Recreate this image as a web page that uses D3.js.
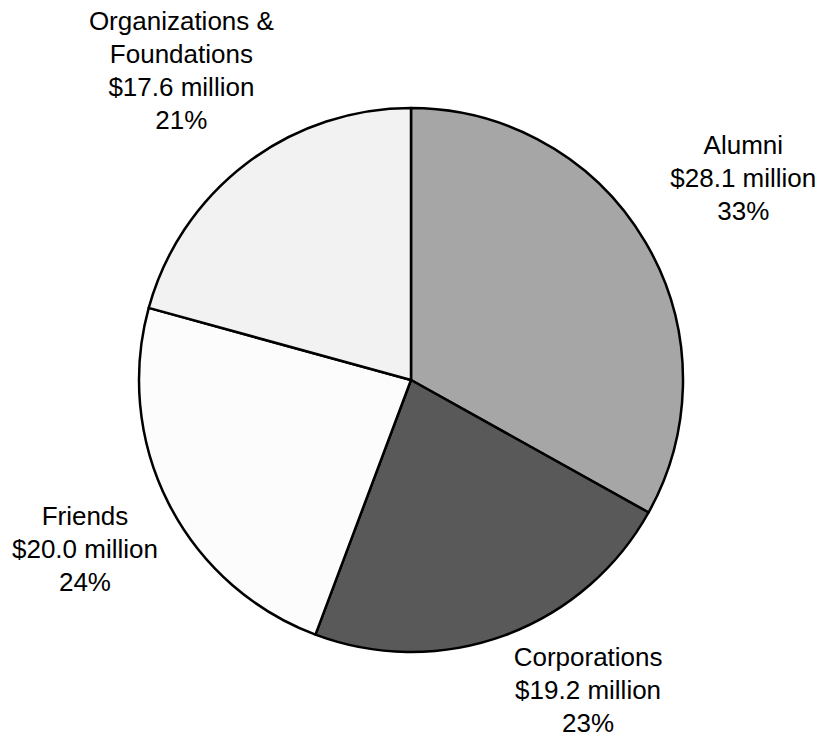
<!DOCTYPE html>
<html><head><meta charset="utf-8">
<script src="https://cdn.jsdelivr.net/npm/d3@7"></script>
<style>body{margin:0;background:#fff}svg{display:block}</style>
</head><body>
<svg id="c" width="829" height="738"></svg>
<script>
const categories = ["Alumni", "Corporations", "Friends", "Organizations & Foundations"];
const values = [28.1, 19.2, 20.0, 17.6];
const amountLabels = ["$28.1 million", "$19.2 million", "$20.0 million", "$17.6 million"];
const percentLabels = ["33%", "23%", "24%", "21%"];
const colors = ["#a6a6a6", "#595959", "#fcfcfc", "#f2f2f2"];

const svg = d3.select("#c");
const cx = 411, cy = 380, r = 272;
const g = svg.append("g").attr("transform", `translate(${cx},${cy})`);
const data = categories.map((c, i) => ({cat: c, v: values[i], amt: amountLabels[i], pct: percentLabels[i], col: colors[i]}));
const pie = d3.pie().value(d => d.v).sort(null);
const arc = d3.arc().innerRadius(0).outerRadius(r);
const arcs = pie(data);
g.selectAll("path").data(arcs).join("path")
  .attr("d", arc).attr("fill", d => d.data.col)
  .attr("stroke", "#000").attr("stroke-width", 2.5).attr("stroke-linejoin", "round");

// label placement: angle-based radius with per-label adjustments
const labelLayout = {
  "Alumni": {rad: 389, da: -0.9},
  "Corporations": {rad: 357, da: -9.6},
  "Friends": {rad: 367, da: -0.3},
  "Organizations & Foundations": {rad: 385, da: 0.7}
};
const lh = 33;
arcs.forEach(a => {
  const L = labelLayout[a.data.cat];
  const mid = (a.startAngle + a.endAngle) / 2 + L.da * Math.PI / 180;
  const x = Math.sin(mid) * L.rad, y = -Math.cos(mid) * L.rad;
  const lines = a.data.cat === "Organizations & Foundations"
    ? ["Organizations &", "Foundations", a.data.amt, a.data.pct]
    : [a.data.cat, a.data.amt, a.data.pct];
  const t = g.append("text").attr("text-anchor", "middle")
    .attr("font-family", "Liberation Sans, Arial, sans-serif").attr("font-size", 26).attr("fill", "#000");
  const y0 = y - (lines.length - 1) * lh / 2 + 9;
  lines.forEach((ln, i) => t.append("tspan").attr("x", x).attr("y", y0 + i * lh).text(ln));
});
</script>
</body></html>
